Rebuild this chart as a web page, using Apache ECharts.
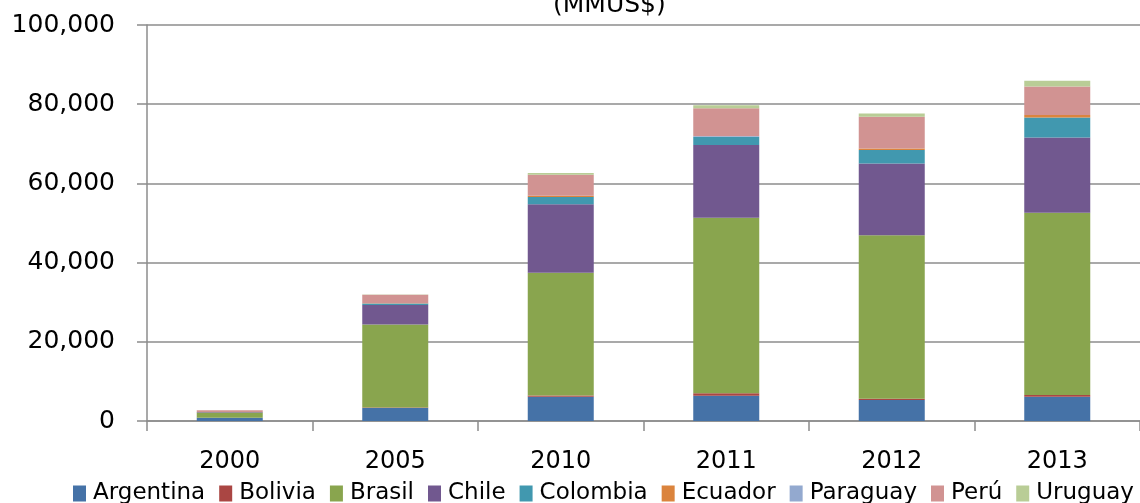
<!DOCTYPE html>
<html>
<head>
<meta charset="utf-8">
<script src="https://cdn.jsdelivr.net/npm/echarts@6/dist/echarts.min.js"></script>
<style>html,body{margin:0;padding:0;background:#fff}#c{width:1140px;height:503px}</style>
</head>
<body>
<div id="c"></div>
<script>
const categories = ['2000', '2005', '2010', '2011', '2012', '2013'];
const argentina = [800, 3300, 6150, 6400, 5300, 6150];
const bolivia   = [0, 100, 300, 600, 300, 430];
const brasil    = [1350, 21000, 31000, 44300, 41300, 46000];
const chile     = [100, 4900, 17300, 18400, 18100, 19000];
const colombia  = [50, 400, 1800, 2000, 3450, 5060];
const ecuador   = [0, 50, 350, 100, 350, 650];
const paraguay  = [0, 0, 0, 200, 0, 0];
const peru      = [400, 2100, 5300, 7000, 8000, 7200];
const uruguay   = [0, 100, 400, 750, 850, 1420];

const seriesDefs = [
  ['Argentina', argentina, '#4572A7'],
  ['Bolivia', bolivia, '#AA4643'],
  ['Brasil', brasil, '#89A54E'],
  ['Chile', chile, '#71588F'],
  ['Colombia', colombia, '#4198AF'],
  ['Ecuador', ecuador, '#DB843D'],
  ['Paraguay', paraguay, '#93A9CF'],
  ['Perú', peru, '#D19392'],
  ['Uruguay', uruguay, '#B9CD96']
];

const FONT = 'DejaVu Sans';
const chart = echarts.init(document.getElementById('c'), null, {renderer: 'canvas'});
chart.setOption({
  animation: false,
  backgroundColor: '#fff',
  title: {
    text: '(MMUS$)',
    left: 548, top: -12,
    textStyle: {fontFamily: FONT, fontSize: 25, fontWeight: 'normal', color: '#000'}
  },
  grid: {left: 147, right: -5, top: 25, bottom: 82, containLabel: false},
  legend: {
    left: 68, top: 477, width: 1100,
    itemWidth: 13, itemHeight: 16, itemGap: 14,
    icon: 'rect',
    textStyle: {fontFamily: FONT, fontSize: 23, color: '#000', padding: [0, 0, 0, 2]},
    data: seriesDefs.map(d => d[0])
  },
  xAxis: {
    type: 'category',
    data: categories,
    axisLine: {lineStyle: {color: '#8c8c8c', width: 1.5}},
    axisTick: {show: true, length: 10, lineStyle: {color: '#8c8c8c', width: 1.5}},
    axisLabel: {fontFamily: FONT, fontSize: 24, color: '#000', margin: 29}
  },
  yAxis: {
    type: 'value',
    min: 0, max: 100000, interval: 20000,
    axisLine: {show: true, lineStyle: {color: '#8c8c8c', width: 1.5}},
    axisTick: {show: true, length: 10, lineStyle: {color: '#8c8c8c', width: 1.5}},
    splitLine: {lineStyle: {color: '#8c8c8c', width: 1.5}},
    axisLabel: {
      fontFamily: FONT, fontSize: 25, color: '#000', margin: 32,
      formatter: v => v.toLocaleString('en-US')
    }
  },
  series: seriesDefs.map(d => ({
    name: d[0],
    type: 'bar',
    stack: 'total',
    barWidth: 66,
    data: d[1],
    itemStyle: {color: d[2]}
  }))
});
</script>
</body>
</html>
